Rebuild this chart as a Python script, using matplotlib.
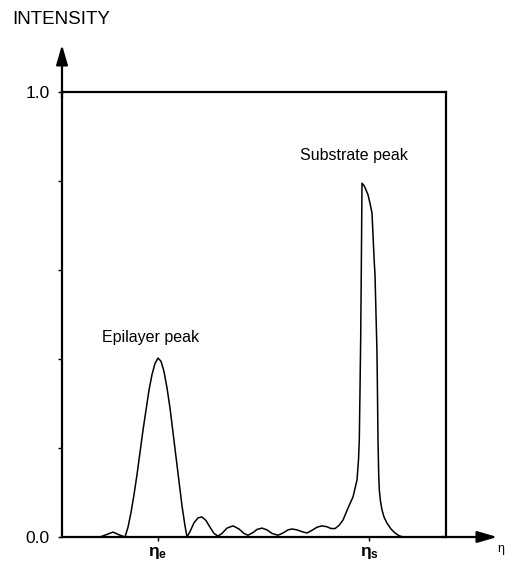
import matplotlib
matplotlib.use("Agg")
import matplotlib.pyplot as plt

plt.rcParams['font.family'] = ['Liberation Sans', 'DejaVu Sans']
plt.rcParams['mathtext.fontset'] = 'dejavusans'

# x in arbitrary units (0 = left axis, 384 = right edge of the box)
x_pos = [0, 38, 44, 51, 57, 63, 66, 69, 72, 75, 78, 81, 84, 87, 90, 93, 96,
         99, 102, 105, 108, 111, 114, 117, 120, 123, 125,
         128, 132, 136, 140, 144, 148, 152, 156, 160, 165, 171, 177, 182,
         186, 191, 195, 200, 205, 210, 216, 221, 226, 230, 235, 240, 245,
         250, 255, 260, 265, 269, 273, 277, 281, 286, 291, 295, 296.5,
         297.3, 298, 298.7, 299.3, 300, 302, 304, 306, 308, 310, 312.3,
         313, 314.7, 315, 315.5, 316, 316.7, 317.3, 318.5, 320, 322, 325,
         329, 333, 337, 341, 384]
intensity = [0, 0, 0.005, 0.011, 0.005, 0, 0.022, 0.055, 0.095, 0.14, 0.19,
             0.24, 0.285, 0.33, 0.365, 0.39, 0.402, 0.395, 0.372, 0.335,
             0.29, 0.235, 0.18, 0.125, 0.07, 0.025, 0.0,
             0.012, 0.032, 0.043, 0.045, 0.037, 0.022, 0.008, 0.002, 0.008,
             0.02, 0.025, 0.018, 0.008, 0.004, 0.01, 0.017, 0.02, 0.016,
             0.008, 0.004, 0.009, 0.016, 0.018, 0.016, 0.012, 0.009, 0.015,
             0.022, 0.025, 0.023, 0.019, 0.019, 0.026, 0.038, 0.065, 0.09,
             0.128, 0.173, 0.218, 0.33, 0.45, 0.6, 0.795, 0.79, 0.78,
             0.769, 0.75, 0.728, 0.616, 0.59, 0.44, 0.41, 0.32, 0.218, 0.14,
             0.106, 0.08, 0.061, 0.045, 0.031, 0.018, 0.009, 0.003, 0.0, 0.0]

peak_ticks = [96, 307]
peak_labels = [r'$\mathregular{\eta_e}$', r'$\mathregular{\eta_s}$']
y_ticks = [0, 0.2, 0.4, 0.6, 0.8, 1.0]
y_labels = ['0.0', '', '', '', '', '1.0']

W, H = 509, 563
fig = plt.figure(figsize=(W / 100, H / 100), dpi=100)
ax = fig.add_axes([62 / W, (H - 537) / H, 384 / W, 445 / H])

ax.plot(x_pos, intensity, color='black', lw=1.1)
ax.set_xlim(0, 384)
ax.set_ylim(0, 1)

for s in ax.spines.values():
    s.set_linewidth(1.6)

ax.set_yticks(y_ticks)
ax.set_yticklabels(y_labels, fontsize=12.5)
ax.set_xticks(peak_ticks)
ax.set_xticklabels(peak_labels, fontsize=12.5, fontweight='bold')
ax.tick_params(axis='both', length=3, width=1, direction='out')
ax.tick_params(axis='y', pad=6)
ax.tick_params(axis='x', pad=3)

# arrows on the axes
ax.annotate('', xy=(0, 495 / 445), xytext=(0, 0.98), xycoords='axes fraction',
            arrowprops=dict(arrowstyle='-|>,head_length=1.2,head_width=0.35',
                            color='black', lw=1.6), annotation_clip=False)
ax.annotate('', xy=(438 / 384, 0), xytext=(0.98, 0), xycoords='axes fraction',
            arrowprops=dict(arrowstyle='-|>,head_length=1.2,head_width=0.35',
                            color='black', lw=1.6), annotation_clip=False)

fig.text(12 / W, 1 - 20 / H, 'INTENSITY', fontsize=13.5, va='center', ha='left')
fig.text(497 / W, 1 - 550 / H, r'$\mathregular{\eta}$', fontsize=9,
         va='center', ha='left')
ax.text(102 - 62, 0.449, 'Epilayer peak', fontsize=11.5, va='center', ha='left')
ax.text(300 - 62, 0.858, 'Substrate peak', fontsize=11.5, va='center', ha='left')

fig.savefig('out.png', dpi=100)
